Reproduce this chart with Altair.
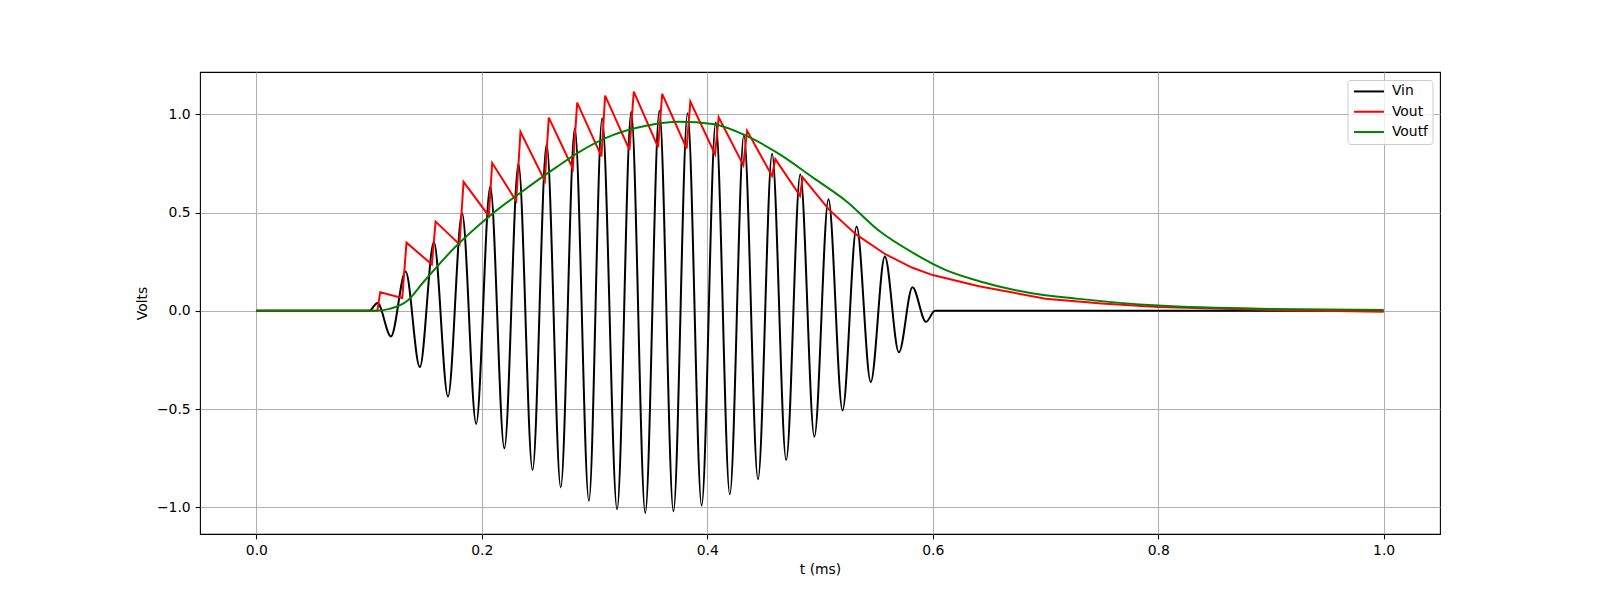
import altair as alt
import pandas as pd

# ---- data ----
vin_t = [0.0, 0.100, 0.1075, 0.1194, 0.1324, 0.145, 0.1575, 0.170, 0.1825, 0.195,
         0.2075, 0.220, 0.2325, 0.245, 0.2575, 0.270, 0.2825, 0.295, 0.3067, 0.320,
         0.3325, 0.345, 0.3575, 0.370, 0.3825, 0.395, 0.4075, 0.420, 0.4325, 0.445,
         0.4575, 0.470, 0.4825, 0.495, 0.5075, 0.520, 0.5325, 0.545, 0.5575, 0.570,
         0.582, 0.594, 0.602, 1.0]
vin_v = [0.0, 0.0, 0.04, -0.13, 0.20, -0.286, 0.35, -0.436, 0.496, -0.575,
         0.633, -0.699, 0.748, -0.81, 0.847, -0.898, 0.929, -0.966, 0.98, -1.009,
         1.013, -1.028, 1.018, -1.019, 1.005, -0.99, 0.959, -0.934, 0.894, -0.857,
         0.799, -0.759, 0.695, -0.64, 0.568, -0.507, 0.429, -0.362, 0.276, -0.211,
         0.12, -0.056, 0.0, 0.0]

vout_t = [0.0, 0.1073, 0.1099, 0.1294, 0.1332, 0.1557, 0.159, 0.1802, 0.1838, 0.2062,
          0.2092, 0.2305, 0.2343, 0.2559, 0.2594, 0.2807, 0.2846, 0.3061, 0.3094, 0.331,
          0.3348, 0.3564, 0.36, 0.3817, 0.385, 0.4069, 0.4101, 0.432, 0.4353, 0.4574,
          0.4604, 0.4823, 0.4846, 0.508, 0.532, 0.558, 0.582, 0.60, 0.641, 0.70,
          0.75, 0.80, 0.90, 1.0]
vout_v = [0.0, 0.0, 0.095, 0.066, 0.347, 0.236, 0.454, 0.338, 0.656, 0.483,
          0.752, 0.559, 0.911, 0.661, 0.983, 0.724, 1.059, 0.786, 1.095, 0.819,
          1.115, 0.832, 1.104, 0.826, 1.064, 0.797, 0.985, 0.741, 0.916, 0.687,
          0.772, 0.585, 0.679, 0.515, 0.389, 0.288, 0.219, 0.182, 0.125, 0.062,
          0.038, 0.02, 0.005, -0.005]

voutf_t = [0.0, 0.106, 0.118, 0.1345, 0.1477, 0.1773, 0.207, 0.2364, 0.2659, 0.2866,
           0.3161, 0.3457, 0.3752, 0.4048, 0.4344, 0.464, 0.4935, 0.5231, 0.5527, 0.5822,
           0.6118, 0.6412, 0.6855, 0.7299, 0.80, 0.90, 1.0]
voutf_v = [0.0, 0.0, 0.01, 0.054, 0.143, 0.33, 0.483, 0.61, 0.73, 0.809,
           0.894, 0.942, 0.962, 0.95, 0.891, 0.797, 0.679, 0.559, 0.406, 0.296,
           0.207, 0.151, 0.092, 0.061, 0.027, 0.01, 0.005]

series_names = ["Vin", "Vout", "Voutf"]
series_colors = ["#000000", "#ff0000", "#008000"]
x_ticks = [0.0, 0.2, 0.4, 0.6, 0.8, 1.0]
y_ticks = [-1.0, -0.5, 0.0, 0.5, 1.0]

df_vin = pd.DataFrame({"t": vin_t, "v": vin_v, "series": "Vin"})
df_vout = pd.DataFrame({"t": vout_t, "v": vout_v, "series": "Vout"})
df_voutf = pd.DataFrame({"t": voutf_t, "v": voutf_v, "series": "Voutf"})

FONT = "DejaVu Sans"
FS = 13.9

x_enc = alt.X("t:Q", scale=alt.Scale(domain=[-0.05, 1.05], nice=False, zero=False),
              axis=alt.Axis(values=x_ticks, format=".1f", title="t (ms)"))
y_enc = alt.Y("v:Q", scale=alt.Scale(domain=[-1.135, 1.215], nice=False, zero=False),
              axis=alt.Axis(values=y_ticks, title="Volts",
                            labelExpr="replace(format(datum.value, '.1f'), '-', '\u2212')"))
color_enc = alt.Color("series:N",
                      scale=alt.Scale(domain=series_names, range=series_colors),
                      legend=alt.Legend(title=None, orient="none", legendX=1147.5, legendY=8,
                                        symbolType="M-1,0L5,0", symbolSize=100,
                                        symbolStrokeWidth=2, labelFont=FONT,
                                        labelFontSize=FS, labelColor="black",
                                        labelOffset=26, rowPadding=5.3, padding=4.5,
                                        strokeColor="#cccccc", fillColor="rgba(255,255,255,0.8)",
                                        cornerRadius=3))

def layer(df, interp):
    return alt.Chart(df).mark_line(strokeWidth=2, interpolate=interp).encode(
        x=x_enc, y=y_enc, color=color_enc)

chart = alt.layer(
    layer(df_vin, "monotone"),
    layer(df_vout, "linear"),
    layer(df_voutf, "monotone"),
).properties(
    width=1240, height=462,
    autosize=alt.AutoSizeParams(type="none"),
    padding={"left": 200, "top": 72, "right": 160, "bottom": 66},
).configure_view(
    stroke="black", strokeWidth=1.1
).configure_axis(
    grid=True, gridColor="#b0b0b0", gridWidth=1.1, domain=False,
    tickColor="black", tickSize=4.9, tickWidth=1.1, labelPadding=4.9,
    labelFont=FONT, labelFontSize=FS, labelColor="black",
    titleFont=FONT, titleFontSize=FS, titleFontWeight="normal", titleColor="black",
).configure_axisX(
    titlePadding=5
).configure_axisY(
    titlePadding=7
)

chart.save("out.html", embed_options={"renderer": "svg", "actions": False})
